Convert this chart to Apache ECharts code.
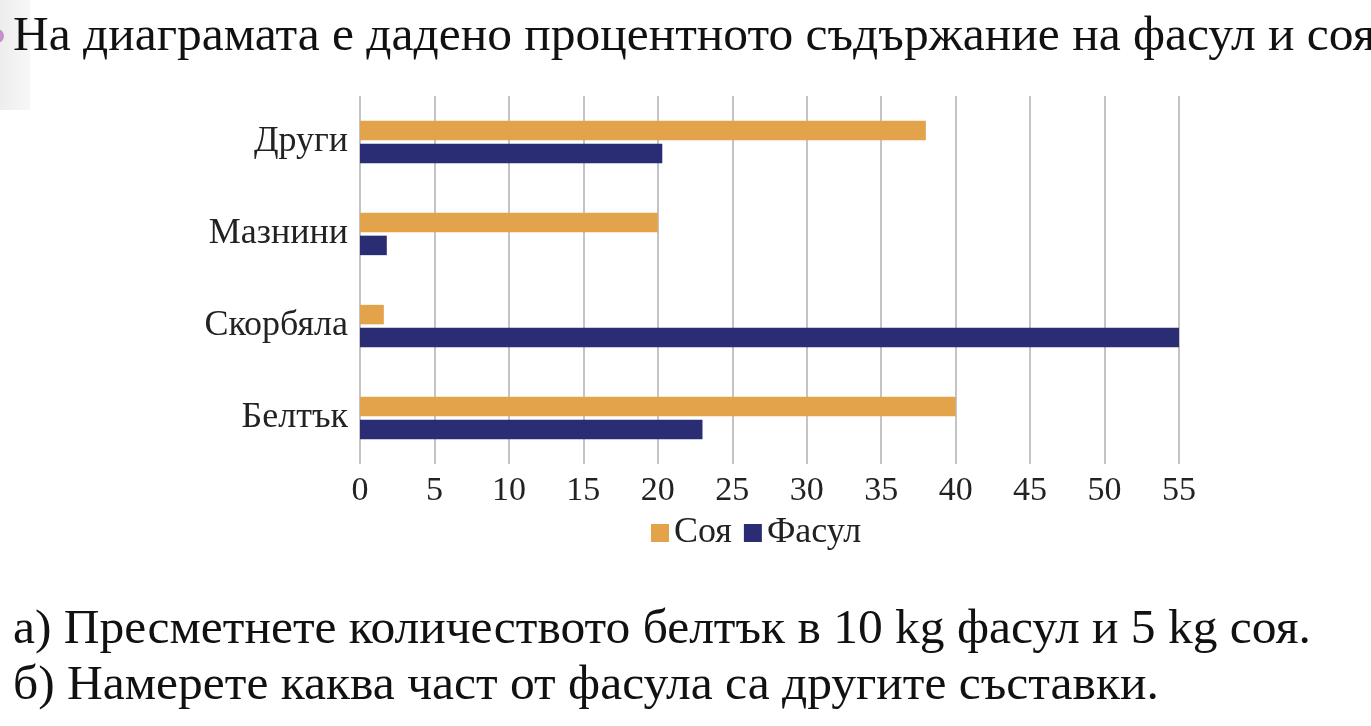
<!DOCTYPE html>
<html>
<head>
<meta charset="utf-8">
<script src="https://cdn.jsdelivr.net/npm/echarts@6/dist/echarts.min.js"></script>
<style>
  html, body { margin: 0; padding: 0; background: #fff; }
  #chart { width: 1371px; height: 726px; }
</style>
</head>
<body>
<div id="chart"></div>
<script>
// Data (percent content)
const categories = ['Белтък', 'Скорбяла', 'Мазнини', 'Други'];
const soyValues = [40, 1.6, 20, 38];
const beanValues = [23, 55, 1.8, 20.3];
const seriesNames = ['Соя', 'Фасул'];
const tickStep = 5;
const axisMax = 55;

const titleText = 'На диаграмата е дадено процентното съдържание на фасул и соя.';
const questionA = 'а) Пресметнете количеството белтък в 10 kg фасул и 5 kg соя.';
const questionB = 'б) Намерете каква част от фасула са другите съставки.';

const font = '"Liberation Serif", "DejaVu Serif", serif';
const colors = ['#E2A34A', '#2B2D74'];

const chart = echarts.init(document.getElementById('chart'));

const option = {
    animation: false,
    color: colors,
    textStyle: { fontFamily: font },
    grid: { left: 360, right: 192, top: 96, height: 368 },
    xAxis: {
        type: 'value',
        min: 0,
        max: axisMax,
        interval: tickStep,
        axisLine: { show: false },
        axisTick: { show: false },
        axisLabel: { fontSize: 34, color: '#222', margin: 10, fontFamily: font },
        splitLine: { lineStyle: { color: '#C4C4C4', width: 2 } }
    },
    yAxis: {
        type: 'category',
        data: categories,
        axisLine: { show: false },
        axisTick: { show: false },
        axisLabel: { fontSize: 36, color: '#222', margin: 12, fontFamily: font }
    },
    legend: {
        data: seriesNames,
        left: 646,
        top: 510,
        icon: 'rect',
        itemWidth: 18,
        itemHeight: 18,
        itemGap: 12,
        textStyle: { fontSize: 36, color: '#222', fontFamily: font }
    },
    series: [
        {
            name: seriesNames[0],
            type: 'bar',
            data: soyValues,
            barWidth: 19.5,
            barGap: '17%'
        },
        {
            name: seriesNames[1],
            type: 'bar',
            data: beanValues,
            barWidth: 19.5,
            barGap: '17%'
        }
    ],
    graphic: [
        // faint grey strip and purple bullet at top-left
        {
            type: 'rect', left: 0, top: 0, shape: { width: 30, height: 110 }, z: -1,
            style: {
                fill: new echarts.graphic.LinearGradient(0, 0, 1, 0, [
                    { offset: 0, color: '#EDEDED' },
                    { offset: 1, color: '#F7F7F7' }
                ])
            }
        },
        { type: 'circle', shape: { cx: -3, cy: 36, r: 7 }, style: { fill: '#C98FCB' } },
        {
            type: 'text', left: 13, top: 12,
            style: { text: titleText, font: '49.5px ' + font, fill: '#111' }
        },
        {
            type: 'text', left: 13, top: 605,
            style: { text: questionA, font: '49.5px ' + font, fill: '#111' }
        },
        {
            type: 'text', left: 13, top: 661,
            style: { text: questionB, font: '49.5px ' + font, fill: '#111' }
        }
    ]
};

chart.setOption(option);
</script>
</body>
</html>
